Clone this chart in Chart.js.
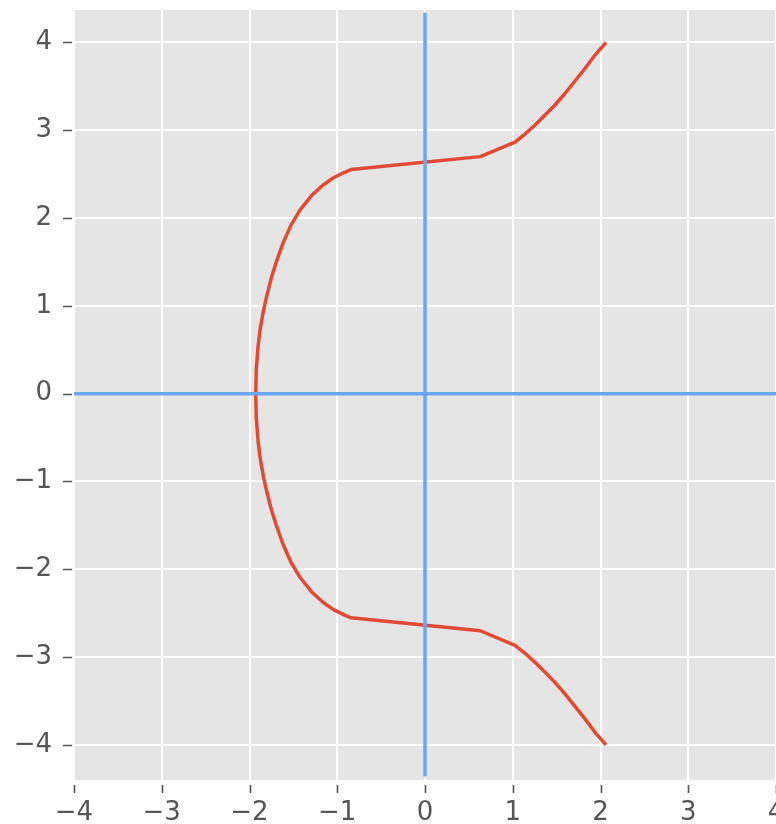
<!DOCTYPE html>
<html><head><meta charset="utf-8">
<script src="https://cdn.jsdelivr.net/npm/chart.js@4.4.1/dist/chart.umd.min.js"></script>
<style>html,body{margin:0;padding:0;background:#fff;}canvas{display:block;}</style>
</head><body>
<canvas id="c" width="776" height="824"></canvas>
<script>
// Curve: top branch (from upper right end to the left vertex), then bottom branch
const curveTopX = [2.063, 1.937, 1.823, 1.709, 1.595, 1.481, 1.368, 1.254, 1.140, 1.026, 0.63, -0.843, -0.934, -1.048, -1.162, -1.288, -1.425, -1.527, -1.618, -1.687, -1.749, -1.801, -1.840, -1.880, -1.903, -1.923, -1.929];
const curveTopY = [4.000, 3.857, 3.704, 3.561, 3.419, 3.288, 3.174, 3.060, 2.957, 2.866, 2.70, 2.553, 2.513, 2.456, 2.376, 2.262, 2.091, 1.920, 1.715, 1.521, 1.328, 1.123, 0.952, 0.724, 0.530, 0.268, 0.000];
const curveBottomX = [-1.923, -1.903, -1.880, -1.840, -1.801, -1.749, -1.687, -1.618, -1.527, -1.425, -1.288, -1.162, -1.048, -0.934, -0.843, 0.63, 1.026, 1.140, 1.254, 1.368, 1.481, 1.595, 1.709, 1.823, 1.937, 2.063];
const curveBottomY = [-0.268, -0.530, -0.724, -0.952, -1.123, -1.328, -1.521, -1.715, -1.920, -2.091, -2.262, -2.376, -2.456, -2.513, -2.553, -2.70, -2.866, -2.957, -3.060, -3.174, -3.288, -3.419, -3.561, -3.704, -3.857, -4.000];
const hLineX = [-4, 4];
const hLineY = [0, 0];
const vLineX = [0, 0];
const vLineY = [-4.36, 4.34];
const xTicks = [-4, -3, -2, -1, 0, 1, 2, 3, 4];
const yTicks = [-4, -3, -2, -1, 0, 1, 2, 3, 4];

const zip = (xs, ys) => xs.map((x, i) => ({x: x, y: ys[i]}));
const curve = zip(curveTopX.concat(curveBottomX), curveTopY.concat(curveBottomY));
const fmt = v => String(v).replace('-', '\u2212');
const FONT = {family: 'DejaVu Sans', size: 26};
const LABEL = '#555555';

const bgPlugin = {
  id: 'bg',
  beforeDraw(chart) {
    const a = chart.chartArea, ctx = chart.ctx;
    ctx.save();
    ctx.fillStyle = '#E5E5E5';
    ctx.fillRect(a.left, a.top, a.right - a.left, a.bottom - a.top);
    ctx.restore();
  }
};
const tickPlugin = {
  id: 'tickmarks',
  afterDraw(chart) {
    const ctx = chart.ctx, xs = chart.scales.x, ys = chart.scales.y;
    ctx.save();
    ctx.strokeStyle = LABEL;
    ctx.lineWidth = 1.6;
    ctx.beginPath();
    yTicks.forEach(v => {
      const p = Math.round(ys.getPixelForValue(v)) + 0.5;
      ctx.moveTo(63, p); ctx.lineTo(72, p);
    });
    xTicks.forEach(v => {
      const p = Math.round(xs.getPixelForValue(v)) + 0.5;
      ctx.moveTo(p, 785); ctx.lineTo(p, 793);
    });
    ctx.stroke();
    ctx.restore();
  }
};

new Chart(document.getElementById('c'), {
  type: 'scatter',
  data: {
    datasets: [
      {data: zip(vLineX, vLineY), showLine: true, borderColor: '#6aa6f6', borderWidth: 3.5, pointRadius: 0, borderCapStyle: 'butt'},
      {data: zip(hLineX, hLineY), showLine: true, borderColor: '#6aa6f6', borderWidth: 3.5, pointRadius: 0, borderCapStyle: 'butt'},
      {data: curve, showLine: true, borderColor: '#E24A33', borderWidth: 3.5, pointRadius: 0, tension: 0, borderJoinStyle: 'round', borderCapStyle: 'butt'}
    ]
  },
  options: {
    responsive: false,
    animation: false,
    devicePixelRatio: 1,
    layout: {padding: {top: 10, left: 0, right: 0, bottom: 0}},
    plugins: {legend: {display: false}, tooltip: {enabled: false}},
    scales: {
      x: {
        type: 'linear', min: -4, max: 4,
        afterBuildTicks: s => { s.ticks = xTicks.map(v => ({value: v})); },
        afterFit: s => { s.height = 44; s.paddingLeft = 0; s.paddingRight = 0; },
        border: {display: false},
        grid: {color: '#FFFFFF', lineWidth: 2, drawTicks: true, tickLength: 12, tickColor: 'rgba(0,0,0,0)'},
        ticks: {font: FONT, color: LABEL, padding: 6, maxRotation: 0, autoSkip: false, callback: v => fmt(v)}
      },
      y: {
        type: 'linear', min: -4.4, max: 4.37,
        afterBuildTicks: s => { s.ticks = yTicks.map(v => ({value: v})); },
        afterFit: s => { s.width = 74; s.paddingTop = 0; s.paddingBottom = 0; },
        border: {display: false},
        grid: {color: '#FFFFFF', lineWidth: 2, drawTicks: true, tickLength: 10, tickColor: 'rgba(0,0,0,0)'},
        ticks: {font: FONT, color: LABEL, padding: 12, autoSkip: false, callback: v => fmt(v)}
      }
    }
  },
  plugins: [bgPlugin, tickPlugin]
});
</script>
</body></html>
